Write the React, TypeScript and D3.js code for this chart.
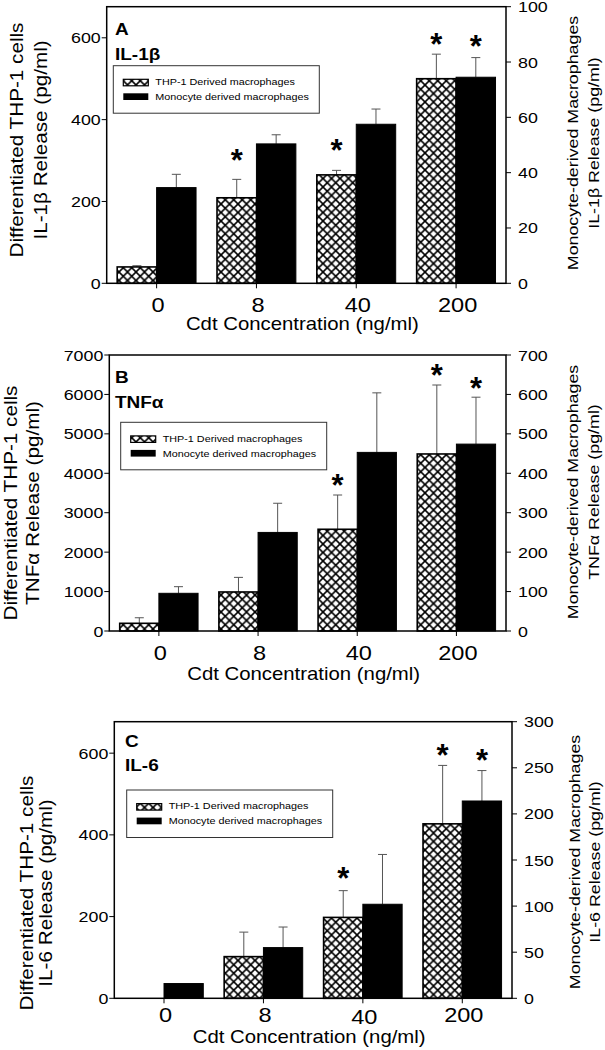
import React from 'react';
import * as d3 from 'd3';

// ---------- DATA ----------
const categories = ['0', '8', '40', '200'];

// Panel A: IL-1β
const il1bThp = [40, 209, 265, 500];
const il1bThpSd = [3, 45, 11, 60];
const il1bMono = [34.6, 50.4, 57.5, 74.5];
const il1bMonoSd = [4.8, 3.3, 5.5, 7.1];
const il1bThpStar = [null, 316, 342, 601];
const il1bMonoStar = [null, null, null, 88.2];
const il1bLeftTicks = [0, 200, 400, 600];
const il1bRightTicks = [0, 20, 40, 60, 80, 100];

// Panel B: TNFα
const tnfThp = [195, 990, 2580, 4490];
const tnfThpSd = [141, 370, 869, 1749];
const tnfMono = [95.6, 250, 453, 474];
const tnfMonoSd = [16.8, 74, 151, 119];
const tnfThpStar = [null, null, 3873, 6662];
const tnfMonoStar = [null, null, null, 632];
const tnfLeftTicks = [0, 1000, 2000, 3000, 4000, 5000, 6000, 7000];
const tnfRightTicks = [0, 100, 200, 300, 400, 500, 600, 700];

// Panel C: IL-6
const il6Thp = [0, 102, 198, 427];
const il6ThpSd = [0, 60, 65.5, 143];
const il6Mono = [16, 55, 102, 214];
const il6MonoSd = [0, 22.3, 54, 33];
const il6ThpStar = [null, null, 310, 612];
const il6MonoStar = [null, null, null, 265.7];
const il6LeftTicks = [0, 200, 400, 600];
const il6RightTicks = [0, 50, 100, 150, 200, 250, 300];

const seriesNames = ['THP-1 Derived macrophages', 'Monocyte derived macrophages'];
const xTitle = 'Cdt Concentration (ng/ml)';
const leftTitle1 = 'Differentiated THP-1 cells';
const rightTitle1 = 'Monocyte-derived Macrophages';

// ---------- LAYOUT ----------
const FONT = "'Liberation Sans', Arial, Helvetica, sans-serif";
const SX = 1.15;

const panels = [
  {
    letter: 'A', cyto: 'IL-1β', thp: il1bThp, thpSd: il1bThpSd, mono: il1bMono, monoSd: il1bMonoSd,
    thpStar: il1bThpStar, monoStar: il1bMonoStar, leftTicks: il1bLeftTicks, rightTicks: il1bRightTicks,
    leftMax: 676, rightMax: 100,
    x0: 106.7, x1: 506, y0: 6.7, y1: 283.3,
    legend: [113.3, 65.7], letterDx: 8.3, letterDy: [28.3, 53.3],
    leftTitleX: [23, 46.5], leftTitleCY: 140, rightTitleX: [578, 599], rightTitleCY: 143,
    xTickDy: 28.4, xTitleDy: 46.7, tickLabelDy: [0, 0, 0, 0],
  },
  {
    letter: 'B', cyto: 'TNFα', thp: tnfThp, thpSd: tnfThpSd, mono: tnfMono, monoSd: tnfMonoSd,
    thpStar: tnfThpStar, monoStar: tnfMonoStar, leftTicks: tnfLeftTicks, rightTicks: tnfRightTicks,
    leftMax: 7000, rightMax: 700,
    x0: 109.3, x1: 506, y0: 355, y1: 631,
    legend: [120.7, 422.3], letterDx: 5.7, letterDy: [28.3, 53.3],
    leftTitleX: [17, 39], leftTitleCY: 503, rightTitleX: [578, 599], rightTitleCY: 492,
    xTickDy: 29, xTitleDy: 49, tickLabelDy: [0, 0, 0, 0],
  },
  {
    letter: 'C', cyto: 'IL-6', thp: il6Thp, thpSd: il6ThpSd, mono: il6Mono, monoSd: il6MonoSd,
    thpStar: il6ThpStar, monoStar: il6MonoStar, leftTicks: il6LeftTicks, rightTicks: il6RightTicks,
    leftMax: 677, rightMax: 300,
    x0: 114.3, x1: 512, y0: 721.7, y1: 998.3,
    legend: [126.7, 790], letterDx: 10.7, letterDy: [25, 49.3],
    leftTitleX: [33, 52], leftTitleCY: 893, rightTitleX: [580, 600], rightTitleCY: 862,
    xTickDy: 24, xTitleDy: 44.5, tickLabelDy: [0, 0, 2, 0],
  },
];

function T({ x, y, rot = 0, size, anchor = 'start', weight = 'normal', sx = SX, children }: any) {
  const tr = `translate(${x},${y})` + (rot ? ` rotate(${rot})` : '') + ` scale(${sx},1)`;
  return (
    <text transform={tr} fontSize={size} textAnchor={anchor} fontWeight={weight} fontFamily={FONT} fill="#000">
      {children}
    </text>
  );
}

function Panel({ p }: any) {
  const x = d3.scaleBand<string>().domain(categories).range([p.x0, p.x1]).paddingInner(0.21).paddingOuter(0.105);
  const yL = d3.scaleLinear().domain([0, p.leftMax]).range([p.y1, p.y0]);
  const yR = d3.scaleLinear().domain([0, p.rightMax]).range([p.y1, p.y0]);
  const bw = x.bandwidth() / 2;
  const cap = 4.5;
  const errColor = '#555';
  const starSize = 31;
  const starOff = 0.56 * starSize;
  const [lx, ly] = p.legend;
  const midX = (p.x0 + p.x1) / 2 - 4;

  return (
    <g>
      {categories.map((c, i) => {
        const bx = x(c)!;
        const thpTop = yL(p.thp[i]);
        const monoTop = yR(p.mono[i]);
        const thpCx = bx + bw / 2;
        const monoCx = bx + bw * 1.5;
        return (
          <g key={c}>
            {p.thp[i] > 0 && (
              <g>
                <line x1={thpCx} x2={thpCx} y1={thpTop} y2={yL(p.thp[i] + p.thpSd[i])} stroke={errColor} strokeWidth={1} />
                <line x1={thpCx - cap} x2={thpCx + cap} y1={yL(p.thp[i] + p.thpSd[i])} y2={yL(p.thp[i] + p.thpSd[i])} stroke={errColor} strokeWidth={1} />
                <rect x={bx} y={thpTop} width={bw} height={p.y1 - thpTop} fill="url(#xhatch)" stroke="#000" strokeWidth={1.6} />
              </g>
            )}
            {p.monoSd[i] > 0 && (
              <g>
                <line x1={monoCx} x2={monoCx} y1={monoTop} y2={yR(p.mono[i] + p.monoSd[i])} stroke={errColor} strokeWidth={1} />
                <line x1={monoCx - cap} x2={monoCx + cap} y1={yR(p.mono[i] + p.monoSd[i])} y2={yR(p.mono[i] + p.monoSd[i])} stroke={errColor} strokeWidth={1} />
              </g>
            )}
            <rect x={bx + bw} y={monoTop} width={bw} height={p.y1 - monoTop} fill="#000" stroke="#000" strokeWidth={1} />
            {p.thpStar[i] != null && (
              <T x={thpCx} y={yL(p.thpStar[i]) + starOff} size={starSize} anchor="middle" weight="bold" sx={1}>*</T>
            )}
            {p.monoStar[i] != null && (
              <T x={monoCx} y={yR(p.monoStar[i]) + starOff} size={starSize} anchor="middle" weight="bold" sx={1}>*</T>
            )}
          </g>
        );
      })}

      <rect x={p.x0} y={p.y0} width={p.x1 - p.x0} height={p.y1 - p.y0} fill="none" stroke="#000" strokeWidth={1.5} />

      {p.leftTicks.map((t: number) => (
        <g key={'l' + t}>
          <line x1={p.x0 - 5} x2={p.x0} y1={yL(t)} y2={yL(t)} stroke="#000" strokeWidth={1} />
          <T x={p.x0 - 6} y={yL(t) + 5.5} size={15.5} anchor="end">{t}</T>
        </g>
      ))}
      {p.rightTicks.map((t: number) => (
        <g key={'r' + t}>
          <line x1={p.x1} x2={p.x1 + 5} y1={yR(t)} y2={yR(t)} stroke="#000" strokeWidth={1} />
          <T x={p.x1 + 12} y={yR(t) + 5.5} size={15.5} anchor="start">{t}</T>
        </g>
      ))}
      {categories.map((c, i) => {
        const cx = x(c)! + x.bandwidth() / 2;
        return (
          <g key={'x' + c}>
            <line x1={cx} x2={cx} y1={p.y1} y2={p.y1 + 5} stroke="#000" strokeWidth={1} />
            <T x={cx + 1.5} y={p.y1 + p.xTickDy + p.tickLabelDy[i]} size={20.5} anchor="middle">{c}</T>
          </g>
        );
      })}
      <T x={midX} y={p.y1 + p.xTitleDy} size={17.7} anchor="middle">{xTitle}</T>

      <T x={p.leftTitleX[0]} y={p.leftTitleCY} rot={-90} size={18} anchor="middle">{leftTitle1}</T>
      <T x={p.leftTitleX[1]} y={p.leftTitleCY} rot={-90} size={18} anchor="middle">{`${p.cyto} Release (pg/ml)`}</T>
      <T x={p.rightTitleX[0]} y={p.rightTitleCY} rot={-90} size={15.5} anchor="middle">{rightTitle1}</T>
      <T x={p.rightTitleX[1]} y={p.rightTitleCY} rot={-90} size={15.5} anchor="middle">{`${p.cyto} Release (pg/ml)`}</T>

      <T x={p.x0 + p.letterDx} y={p.y0 + p.letterDy[0]} size={16.5} weight="bold">{p.letter}</T>
      <T x={p.x0 + p.letterDx} y={p.y0 + p.letterDy[1]} size={16.5} weight="bold">{p.cyto}</T>

      <rect x={lx} y={ly} width={206} height={47.5} fill="#fff" stroke="#333" strokeWidth={1} />
      <rect x={lx + 10} y={ly + 13.6} width={25} height={6.5} fill="url(#xhatch)" stroke="#000" strokeWidth={1.2} />
      <rect x={lx + 10} y={ly + 27.6} width={25} height={6.7} fill="#000" />
      <T x={lx + 42} y={ly + 19.3} size={9.4}>{seriesNames[0]}</T>
      <T x={lx + 42} y={ly + 34.3} size={9.4}>{seriesNames[1]}</T>
    </g>
  );
}

export default function App() {
  const s = 8.5;
  return (
    <svg width={605} height={1050} style={{ position: 'absolute', left: 0, top: 0, background: '#fff' }}>
      <defs>
        <pattern id="xhatch" patternUnits="userSpaceOnUse" width={s} height={s}>
          <rect width={s} height={s} fill="#fff" />
          <path d={`M-1,-1 L${s + 1},${s + 1} M${s + 1},-1 L-1,${s + 1}`} stroke="#000" strokeWidth={1.6} />
        </pattern>
      </defs>
      <rect width={605} height={1050} fill="#fff" />
      {panels.map((p) => (
        <Panel key={p.letter} p={p} />
      ))}
    </svg>
  );
}
